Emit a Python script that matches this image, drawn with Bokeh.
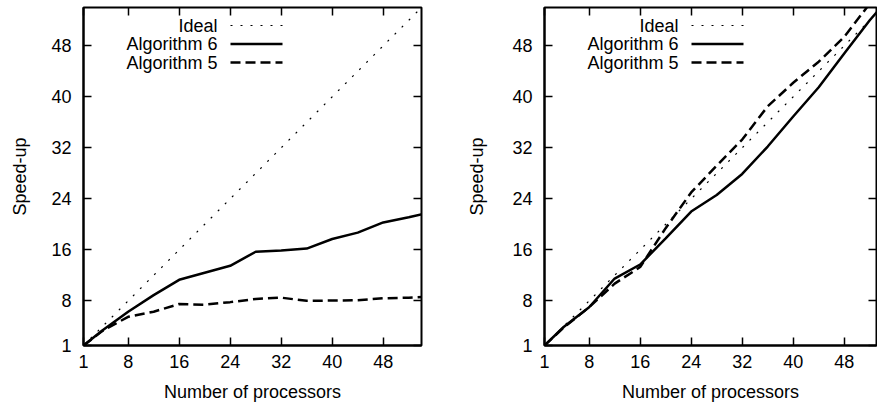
from bokeh.plotting import figure
from bokeh.models import FixedTicker, LinearAxis, Range1d, Label, Arrow
from bokeh.layouts import row
from bokeh.embed import file_html
from bokeh.resources import INLINE

# ---- data ----
procs = [1, 4, 8, 12, 16, 20, 24, 28, 32, 36, 40, 44, 48, 52, 56]
left_alg6 = [1, 3.4, 6.3, 8.9, 11.3, 12.4, 13.5, 15.7, 15.9, 16.2, 17.7, 18.7, 20.3, 21.1, 22.0]
left_alg5 = [1, 3.3, 5.5, 6.3, 7.5, 7.4, 7.8, 8.3, 8.5, 8.0, 8.05, 8.1, 8.4, 8.5, 8.7]
right_alg6 = [1, 3.9, 7.0, 11.5, 13.7, 17.8, 22.0, 24.6, 27.9, 32.2, 36.9, 41.5, 46.8, 52.0, 56.6]
right_alg5 = [1, 3.8, 7.0, 10.7, 13.3, 19.4, 25.0, 29.2, 33.3, 38.5, 42.2, 45.5, 49.4, 54.6, 59.5]
ideal_x = [1, 56]
ideal_y = [1, 56]
tick_values = [1, 8, 16, 24, 32, 40, 48]
legend_labels = ["Ideal", "Algorithm 6", "Algorithm 5"]
x_label = "Number of processors"
y_label = "Speed-up"

FONT = "Liberation Sans"
FS = "18px"
STYLES = [
    dict(line_width=1.2, line_dash="2 8"),
    dict(line_width=2.5, line_dash="solid"),
    dict(line_width=2.5, line_dash="10 5"),
]


def style_axis(ax, labels=True):
    ax.ticker = FixedTicker(ticks=tick_values)
    ax.major_tick_in = 8
    ax.major_tick_out = 0
    ax.minor_tick_line_color = None
    ax.major_tick_line_color = "black"
    ax.major_tick_line_width = 1.5
    ax.axis_line_color = "black"
    ax.axis_line_width = 2
    if labels:
        ax.major_label_text_font = FONT
        ax.major_label_text_font_size = FS
        ax.major_label_text_color = "black"
        ax.axis_label_text_font = FONT
        ax.axis_label_text_font_size = FS
        ax.axis_label_text_font_style = "normal"
        ax.axis_label_text_color = "black"
    else:
        # mirrored tick marks only (no labels drawn)
        ax.major_label_text_font_size = "1px"
        ax.major_label_text_color = None
        ax.major_label_standoff = 0
        ax.axis_label_standoff = 0
        ax.axis_line_color = None


def make_panel(alg6, alg5, x_end, frame_w, border_l, border_r, ylab_standoff):
    p = figure(frame_width=frame_w, frame_height=338,
               x_range=Range1d(1, x_end), y_range=Range1d(1, 54),
               output_backend="svg", toolbar_location=None,
               min_border_left=border_l, min_border_right=border_r,
               min_border_top=7, min_border_bottom=59,
               background_fill_color="white", border_fill_color="white")
    p.grid.visible = False
    p.outline_line_color = "black"
    p.outline_line_width = 2

    p.line(ideal_x, ideal_y, line_color="black", **STYLES[0])
    p.line(procs, alg6, line_color="black", **STYLES[1])
    p.line(procs, alg5, line_color="black", **STYLES[2])

    style_axis(p.xaxis[0])
    style_axis(p.yaxis[0])
    p.xaxis[0].axis_label = x_label
    p.yaxis[0].axis_label = y_label
    p.xaxis[0].major_label_standoff = 9
    p.xaxis[0].axis_label_standoff = 11
    p.yaxis[0].major_label_standoff = 12
    p.yaxis[0].axis_label_standoff = ylab_standoff

    top = LinearAxis()
    right = LinearAxis()
    style_axis(top, labels=False)
    style_axis(right, labels=False)
    p.add_layout(top, "above")
    p.add_layout(right, "right")

    # key: text right-aligned, sample line to its right (gnuplot style)
    rows_y = [320, 301.5, 283]
    for name, st, yy in zip(legend_labels, STYLES, rows_y):
        p.add_layout(Label(x=134, y=yy, x_units="screen", y_units="screen", text=name,
                           text_align="right", text_baseline="middle",
                           text_font=FONT, text_font_size=FS, text_color="black"))
        p.add_layout(Arrow(x_start=147, y_start=yy, x_end=199, y_end=yy,
                           start_units="screen", end_units="screen",
                           start=None, end=None, line_color="black", **st))
    return p


p1 = make_panel(left_alg6, left_alg5, 54, 338, 83, 27, 18)
p2 = make_panel(right_alg6, right_alg5, 53.06, 332, 96, 1, 22)

layout = row(p1, p2, spacing=0)
open("out.html", "w").write(file_html(layout, INLINE))
